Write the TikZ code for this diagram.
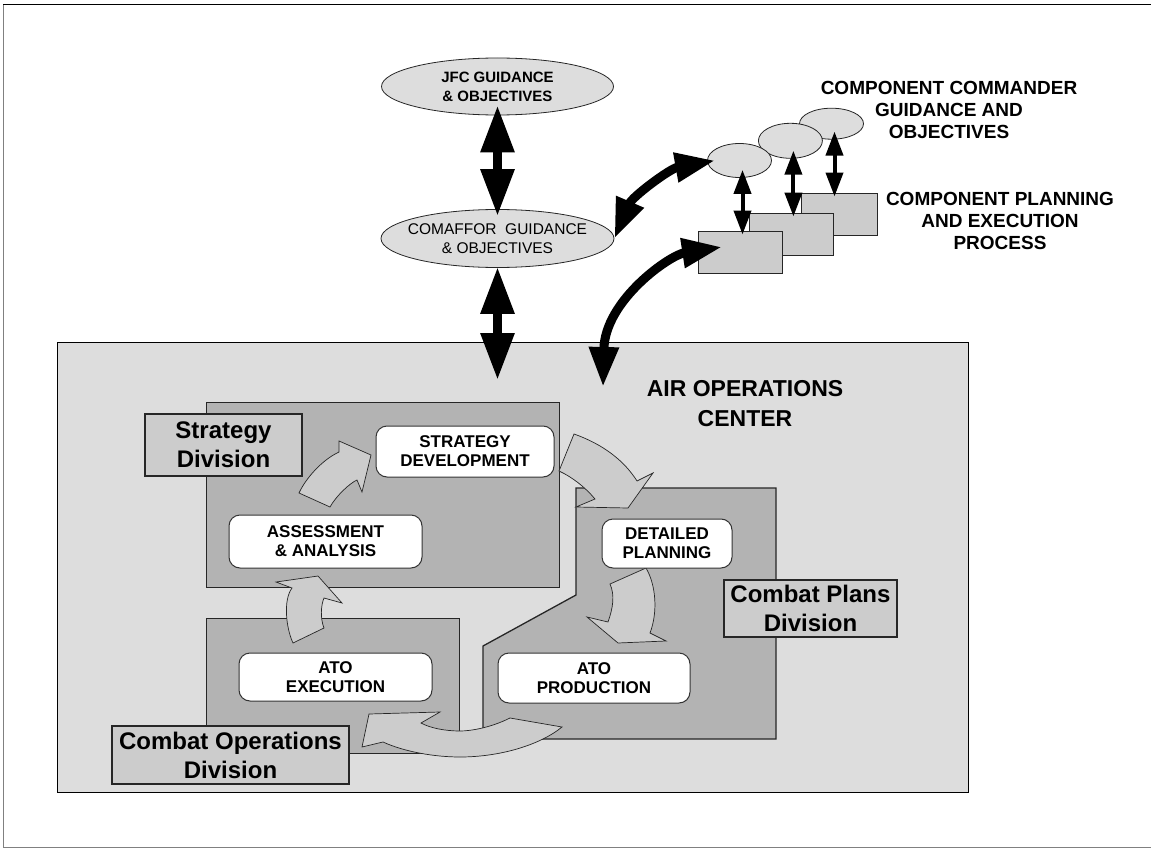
\documentclass[tikz,border=0pt]{standalone}
\usepackage{fontspec}
\setmainfont{Liberation Sans}
\usetikzlibrary{arrows.meta,shapes.geometric}
\definecolor{aocgray}{HTML}{DDDDDD}
\definecolor{divgray}{HTML}{B3B3B3}
\definecolor{labelgray}{HTML}{CCCCCC}

\begin{document}
\begin{tikzpicture}[x=1pt,y=-1pt,
        aoc/.style={draw=black,fill=aocgray,line width=1pt,anchor=north west,inner sep=0},
        division/.style={draw=black!85,fill=divgray,line width=1.3pt,anchor=north west,inner sep=0},
        divlabel/.style={draw=black!85,fill=labelgray,line width=1.2pt,inner sep=0,align=center,
            font=\fontsize{24}{29}\selectfont\bfseries},
        process/.style={draw=black!80,fill=white,rounded corners=11pt,line width=1pt,inner sep=0,
            align=center,font=\fontsize{17}{19}\selectfont\bfseries},
        flow/.style={draw=black!85,fill=labelgray,line width=0.7pt},
        guidance/.style={ellipse,draw=black!85,fill=aocgray,line width=0.8pt,inner xsep=-10pt,
            inner ysep=0,align=center},
        commander/.style={ellipse,draw=black!85,fill=aocgray,line width=0.8pt,inner sep=0},
        component/.style={draw=black!85,fill=labelgray,line width=1pt,inner sep=0},
        comptext/.style={align=center,inner sep=0,font=\fontsize{19}{22}\selectfont\bfseries},
        bigdbl/.style={line width=9pt,arrows={Triangle[length=47pt,width=32pt]-Triangle[length=47pt,width=32pt]}},
        curvedbl/.style={line width=9pt,arrows={Triangle[length=40pt,width=28pt]-Triangle[length=40pt,width=28pt]}},
        smalldbl/.style={line width=4pt,arrows={Triangle[length=24pt,width=17pt]-Triangle[length=24pt,width=17pt]}}]
    \useasboundingbox (0,0) rectangle (1151,848);
    % frame
    \draw[gray,line width=1pt] (3,5) -- (3,847) -- (1151,847);
    \draw[line width=1pt] (3,5) -- (1151,5);

    % air operations center
    \node[aoc,minimum width=911pt,minimum height=450pt] (aoc) at (57,342) {};
    \node[align=center,inner sep=0,font=\fontsize{23}{30}\selectfont\bfseries] (aoctitle)
        at (745,403.5) {AIR OPERATIONS\\CENTER};

    % divisions
    \node[division,minimum width=353pt,minimum height=185pt] (stratdiv) at (206,402) {};
    \node[division,minimum width=253pt,minimum height=135pt] (opsdiv) at (206,618) {};
    \draw[division] (576,488) -- (776,488) -- (776,739) -- (483,739) -- (483,646) -- (576,595) -- cycle;

    % cycle arrows
    \draw[flow] (299,493) .. controls (306,478) and (322,460) .. (339,452) -- (339,441) -- (371,455)
        -- (362,492) -- (357,480) .. controls (350,483) and (336,496) .. (330,507) -- cycle;
    \draw[flow] (293,643) .. controls (286,628) and (283,600) .. (292,588) -- (276,582) -- (318,576)
        -- (342,603) -- (324,598) .. controls (321,605) and (320,618) .. (324,628) -- cycle;
    \draw[flow] (574,434) .. controls (605,445) and (625,462) .. (637,481) -- (653,473) -- (628,508)
        -- (576,507) -- (595,499) .. controls (585,487) and (572,477) .. (559,471) -- cycle;
    \draw[flow] (646,568) .. controls (656,585) and (658,612) .. (650,633) -- (666,641) -- (618,643)
        -- (587,617) -- (608,622) .. controls (613,608) and (615,595) .. (610,584) -- cycle;
    \draw[flow] (510,718) .. controls (490,728) and (470,731) .. (460,731)
        .. controls (445,731) and (430,728) .. (421,723) -- (440,712) -- (369,714) -- (362,747)
        -- (383,742) .. controls (405,752) and (435,757) .. (460,757)
        .. controls (500,757) and (540,745) .. (562,727) -- cycle;

    % division labels
    \node[divlabel,minimum width=157pt,minimum height=62pt] (stratlabel) at (223.5,445) {Strategy\\Division};
    \node[divlabel,minimum width=237pt,minimum height=58pt] (opslabel) at (230.5,755) {Combat Operations\\Division};
    \node[divlabel,minimum width=173pt,minimum height=57pt] (planslabel) at (810.5,608.5) {Combat Plans\\Division};

    % processes
    \node[process,minimum width=178pt,minimum height=51pt] (stratdev) at (465,451.5) {STRATEGY\\DEVELOPMENT};
    \node[process,minimum width=193pt,minimum height=53pt] (assess) at (325.5,541.5) {ASSESSMENT\\\& ANALYSIS};
    \node[process,minimum width=193pt,minimum height=48pt] (atoexec) at (335.5,677) {ATO\\EXECUTION};
    \node[process,minimum width=130pt,minimum height=49pt] (detplan) at (667,543.5) {DETAILED\\PLANNING};
    \node[process,minimum width=192pt,minimum height=50pt] (atoprod) at (594,678) {ATO\\PRODUCTION};

    % guidance
    \node[guidance,minimum width=232pt,minimum height=57pt,font=\fontsize{15}{19}\selectfont\bfseries]
        (jfc) at (497.5,86.5) {JFC GUIDANCE\\\& OBJECTIVES};
    \node[guidance,minimum width=233pt,minimum height=58pt,font=\fontsize{15.5}{18.7}\selectfont]
        (comaffor) at (497.5,238.5) {COMAFFOR\ \ GUIDANCE\\\& OBJECTIVES};

    % components
    \node[component,minimum width=76pt,minimum height=42pt] (cp3) at (839,214) {};
    \node[component,minimum width=84pt,minimum height=42pt] (cp2) at (791,234) {};
    \node[component,minimum width=84pt,minimum height=42pt] (cp1) at (740,252) {};
    \node[commander,minimum width=64pt,minimum height=31pt] (cc3) at (831.5,123.7) {};
    \node[commander,minimum width=64pt,minimum height=35pt] (cc2) at (790.4,140.8) {};
    \node[commander,minimum width=64pt,minimum height=34pt] (cc1) at (739.5,160.5) {};
    \node[comptext] (cctext) at (949,110) {COMPONENT COMMANDER\\GUIDANCE AND\\OBJECTIVES};
    \node[comptext] (cptext) at (1000,221) {COMPONENT PLANNING\\AND EXECUTION\\PROCESS};

    % links
    \coordinate (aocentry) at (497.5,380);
    \coordinate (aocside) at (603,387);
    \draw[bigdbl] ([yshift=10pt]jfc.south) -- ([yshift=-7pt]comaffor.north);
    \draw[bigdbl] ([yshift=1pt]comaffor.south) -- (aocentry);
    \draw[curvedbl] (comaffor.east) .. controls +(18,-42) and +(-45,8) .. ([xshift=8pt]cc1.west);
    \draw[curvedbl] ([xshift=-18pt,yshift=5pt]cp1.center) .. controls +(-52,8) and +(2,-87) .. (aocside);
    \draw[smalldbl] ([xshift=3pt,yshift=8pt]cc1.south) -- ([xshift=3pt,yshift=-4pt]cc1.south |- cp1.north);
    \draw[smalldbl] ([xshift=3pt,yshift=8pt]cc2.south) -- ([xshift=3pt,yshift=-4pt]cc2.south |- cp2.north);
    \draw[smalldbl] ([xshift=3pt,yshift=8pt]cc3.south) -- ([xshift=3pt,yshift=-4pt]cc3.south |- cp3.north);
\end{tikzpicture}
\end{document}
